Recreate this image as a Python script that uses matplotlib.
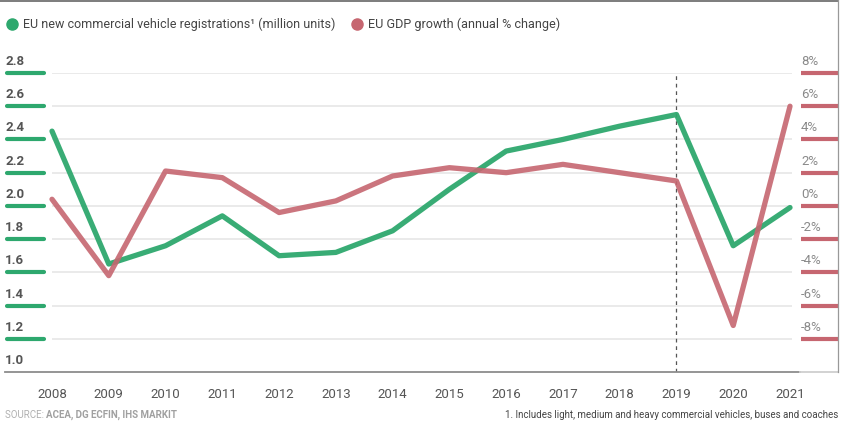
import numpy as np
import matplotlib
matplotlib.use("Agg")
import matplotlib.pyplot as plt
import matplotlib.transforms as mtransforms
from matplotlib.lines import Line2D

plt.rcParams['font.family'] = ['Roboto', 'DejaVu Sans']

# data
years = list(range(2008, 2022))
registrations = [2.45, 1.65, 1.76, 1.94, 1.70, 1.72, 1.85, 2.10, 2.33, 2.40, 2.48, 2.55, 1.76, 1.99]
gdp_growth = [0.4, -4.2, 2.1, 1.7, -0.4, 0.3, 1.8, 2.3, 2.0, 2.5, 2.0, 1.5, -7.2, 6.0]
left_ticks = [1.0, 1.2, 1.4, 1.6, 1.8, 2.0, 2.2, 2.4, 2.6, 2.8]
right_ticks = [-8, -6, -4, -2, 0, 2, 4, 6, 8]
legend_labels = ["EU new commercial vehicle registrations¹ (million units)",
                 "EU GDP growth (annual % change)"]
source_label = "ACEA, DG ECFIN, IHS MARKIT"
footnote = "1. Includes light, medium and heavy commercial vehicles, buses and coaches"

GREEN = '#2ea86e'
RED = '#c66670'

W, H = 842, 425
fig = plt.figure(figsize=(W / 100, H / 100), dpi=100)

def fx(px):
    return px / W

def fy(py):
    return 1 - py / H

px_year = 56.77
ax = fig.add_axes([fx(52), fy(372), fx(740), 299 / H])
ax.set_xlim(2008, 2008 + 740 / px_year)
ax.set_ylim(1.0, 2.8)
ax2 = ax.twinx()
ax2.set_ylim(-10, 8)

for a in (ax, ax2):
    for s in a.spines.values():
        s.set_visible(False)
    a.set_yticks([])
    a.tick_params(length=0)
ax.set_xticks([])

# grid
for v in left_ticks[1:]:
    ax.axhline(v, color='#e6e6e6', lw=1.2, zorder=0)

ax.axvline(2019, color='#555555', lw=0.9, ls=(0, (3, 3)), zorder=1)

ax.plot(years, registrations, color=GREEN, lw=3.8, alpha=0.95,
        solid_joinstyle='round', solid_capstyle='round', clip_on=False, zorder=3)
ax2.plot(years, gdp_growth, color=RED, lw=3.8, alpha=0.9,
         solid_joinstyle='round', solid_capstyle='round', clip_on=False, zorder=4)

# left axis ticks and labels
tl = mtransforms.blended_transform_factory(fig.transFigure, ax.transData)
tl_txt = mtransforms.offset_copy(tl, fig=fig, x=0, y=5, units='dots')
for v in left_ticks:
    if v > 1.0:
        fig.add_artist(Line2D([fx(7), fx(44)], [v, v], transform=tl, color=GREEN,
                              lw=3, solid_capstyle='round'))
    fig.text(fx(5), v, f"{v:.1f}", transform=tl_txt, ha='left', va='bottom',
             fontsize=9.5, fontweight='bold', color='#555555')

# right axis ticks and labels
tr = mtransforms.blended_transform_factory(fig.transFigure, ax2.transData)
tr_txt = mtransforms.offset_copy(tr, fig=fig, x=0, y=5, units='dots')
for v in right_ticks:
    fig.add_artist(Line2D([fx(801), fx(838)], [v, v], transform=tr, color=RED,
                          lw=3, solid_capstyle='butt'))
    fig.text(fx(801), v, f"{v}%", transform=tr_txt, ha='left', va='bottom',
             fontsize=9.5, color='#8a8a8a')

# x labels
tx = mtransforms.blended_transform_factory(ax.transData, fig.transFigure)
for yr in years:
    fig.text(yr, fy(394), str(yr), transform=tx, ha='center', va='center',
             fontsize=9.5, color='#555555')

# baseline and frame
fig.add_artist(Line2D([fx(5), fx(800)], [fy(372), fy(372)], color='#8c8c8c', lw=1.3))
fig.add_artist(Line2D([fx(800), fx(838)], [fy(372), fy(372)], color='#cfcfcf', lw=1.3))
fig.add_artist(Line2D([0, fx(838)], [fy(1.0), fy(1.0)], color='#666666', lw=1.2))
fig.add_artist(Line2D([fx(838), fx(838)], [fy(0), fy(372)], color='#999999', lw=0.9))

# legend
fig.add_artist(Line2D([fx(12)], [fy(24)], marker='o', ms=8, color=GREEN, lw=0))
fig.text(fx(23), fy(24), legend_labels[0], ha='left', va='center', fontsize=9, color='#444444')
fig.add_artist(Line2D([fx(357)], [fy(24)], marker='o', ms=8, color=RED, lw=0))
fig.text(fx(368), fy(24), legend_labels[1], ha='left', va='center', fontsize=9.1, color='#444444')

# footer
t = fig.text(fx(5), fy(415), "SOURCE: ", ha='left', va='center', fontsize=7, color='#b0b0b0')
fig.canvas.draw()
bb = t.get_window_extent()
fig.text(bb.x1 / W, fy(415), source_label, ha='left', va='center', fontsize=7,
         fontweight='bold', color='#a0a0a0')
fig.text(fx(838), fy(415), footnote, ha='right', va='center', fontsize=7, color='#444444')

fig.savefig('out.png', dpi=100)
